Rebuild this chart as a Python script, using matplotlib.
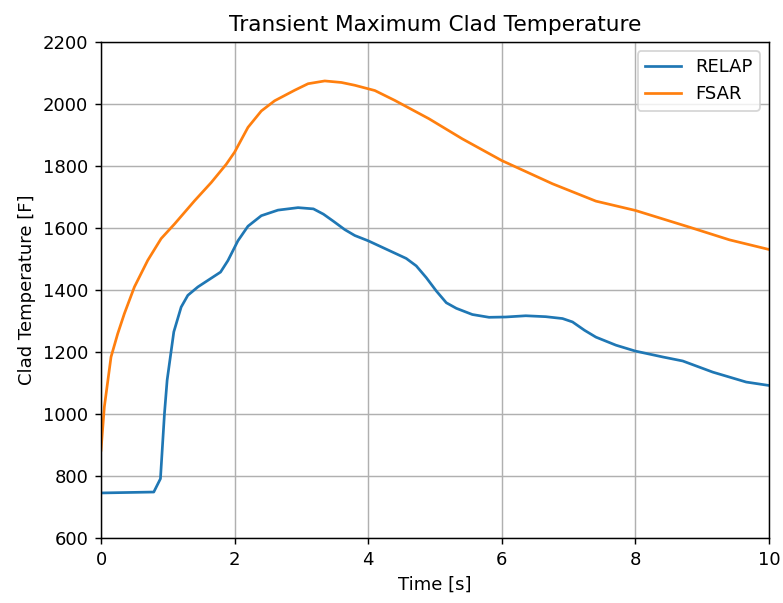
import matplotlib
matplotlib.use('Agg')
import matplotlib.pyplot as plt

# RELAP results (time [s], clad temperature [F])
relapTime = [0.0, 0.79, 0.89, 0.95, 0.99, 1.09, 1.2, 1.3, 1.45, 1.79, 1.9, 2.05, 2.2, 2.4,
             2.65, 2.95, 3.18, 3.33, 3.48, 3.65, 3.8, 4.0, 4.27, 4.57, 4.72, 4.87, 5.02, 5.17,
             5.32, 5.56, 5.81, 6.06, 6.36, 6.66, 6.91, 7.06, 7.24, 7.41, 7.71, 8.0, 8.41,
             8.71, 9.16, 9.66, 10.0]
relapTemp = [745, 748, 791, 1001, 1109, 1265, 1345, 1383, 1410, 1458, 1495, 1559, 1606, 1640,
             1658, 1666, 1662, 1645, 1622, 1595, 1576, 1559, 1532, 1502, 1478, 1440, 1397, 1359,
             1341, 1321, 1312, 1313, 1317, 1314, 1308, 1297, 1270, 1248, 1222, 1203, 1184,
             1171, 1135, 1103, 1092]

# FSAR results
fsarTime = [0.0, 0.05, 0.15, 0.25, 0.35, 0.5, 0.7, 0.9, 1.1, 1.4, 1.65, 1.875, 2.0, 2.2,
            2.4, 2.6, 2.9, 3.1, 3.35, 3.6, 3.8, 4.1, 4.4, 4.91, 5.41, 6.0, 6.76, 7.41, 8.0,
            8.81, 9.41, 10.0]
fsarTemp = [883, 1023, 1184, 1259, 1324, 1410, 1496, 1566, 1613, 1688, 1747, 1806, 1845, 1925,
            1978, 2011, 2045, 2066, 2075, 2070, 2061, 2044, 2012, 1953, 1888, 1818, 1743, 1687,
            1657, 1603, 1562, 1531]

fig, ax = plt.subplots(figsize=(783 / 130, 603 / 130), dpi=130)
fig.subplots_adjust(left=0.129, right=0.982, top=0.930, bottom=0.108)

ax.plot(relapTime, relapTemp, label='RELAP')
ax.plot(fsarTime, fsarTemp, label='FSAR')

ax.set_xlim(0, 10)
ax.set_ylim(600, 2200)
ax.set_xlabel('Time [s]')
ax.set_ylabel('Clad Temperature [F]')
ax.set_title('Transient Maximum Clad Temperature')
ax.grid(True)
ax.legend(loc='upper right')

fig.savefig('out.png', dpi=130)
